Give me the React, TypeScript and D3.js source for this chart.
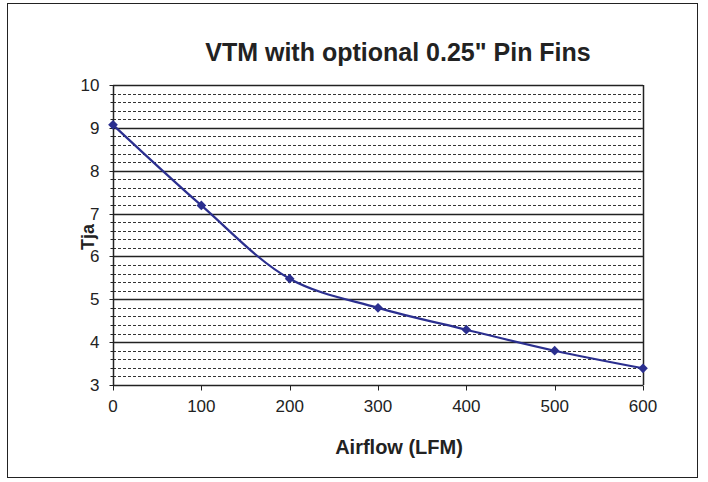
import React, { useEffect, useRef } from 'react';
import * as d3 from 'd3';

const airflow = [0, 100, 200, 300, 400, 500, 600];
const tja = [9.07, 7.19, 5.48, 4.8, 4.29, 3.8, 3.39];
const xTicks = [0, 100, 200, 300, 400, 500, 600];
const yTicks = [3, 4, 5, 6, 7, 8, 9, 10];

const App = () => {
  const svgRef = useRef<SVGSVGElement>(null);

  useEffect(() => {
    const width = 708;
    const height = 482;
    const font = 'Arial, "Liberation Sans", sans-serif';

    const svg = d3.select(svgRef.current);
    svg.selectAll('*').remove();

    // outer frame
    svg.append('rect')
      .attr('x', 7.5).attr('y', 3.5)
      .attr('width', 690).attr('height', 474)
      .attr('fill', 'white').attr('stroke', '#222').attr('stroke-width', 1);

    const x = d3.scaleLinear().domain([0, 600]).range([113, 643]);
    const y = d3.scaleLinear().domain([3, 10]).range([385, 85]);

    // minor grid (dashed) every 0.2
    const minor = d3.range(3, 10, 0.2).map(v => Math.round(v * 10) / 10)
      .filter(v => Math.abs(v - Math.round(v)) > 0.01);

    svg.append('g')
      .selectAll('line')
      .data(minor)
      .join('line')
      .attr('x1', x(0)).attr('x2', x(600))
      .attr('y1', d => Math.round(y(d)) + 0.5).attr('y2', d => Math.round(y(d)) + 0.5)
      .attr('stroke', '#333').attr('stroke-width', 1)
      .attr('stroke-dasharray', '3,2');

    // major grid
    svg.append('g')
      .selectAll('line')
      .data(yTicks)
      .join('line')
      .attr('x1', x(0)).attr('x2', x(600))
      .attr('y1', d => Math.round(y(d)) + 0.5).attr('y2', d => Math.round(y(d)) + 0.5)
      .attr('stroke', '#222').attr('stroke-width', 1.5);

    // plot border right
    svg.append('line')
      .attr('x1', x(600) + 0.5).attr('x2', x(600) + 0.5)
      .attr('y1', y(10)).attr('y2', y(3))
      .attr('stroke', '#222').attr('stroke-width', 1.5);

    // y axis with major + minor ticks
    const yAxis = svg.append('g').attr('transform', `translate(${x(0) + 0.5},0)`);
    yAxis.append('line')
      .attr('y1', y(10)).attr('y2', y(3))
      .attr('stroke', '#222').attr('stroke-width', 1.5);
    yAxis.selectAll('line.minor')
      .data(minor)
      .join('line')
      .attr('class', 'minor')
      .attr('x1', -3).attr('x2', 0)
      .attr('y1', d => Math.round(y(d)) + 0.5).attr('y2', d => Math.round(y(d)) + 0.5)
      .attr('stroke', '#222');
    yAxis.selectAll('line.major')
      .data(yTicks)
      .join('line')
      .attr('class', 'major')
      .attr('x1', -4).attr('x2', 0)
      .attr('y1', d => Math.round(y(d)) + 0.5).attr('y2', d => Math.round(y(d)) + 0.5)
      .attr('stroke', '#222');
    yAxis.selectAll('text')
      .data(yTicks)
      .join('text')
      .attr('x', -14).attr('y', d => y(d) + 6)
      .attr('text-anchor', 'end')
      .attr('font-family', font).attr('font-size', 17).attr('fill', '#222')
      .text(d => d);

    // x axis
    const xAxis = svg.append('g').attr('transform', `translate(0,${y(3) + 0.5})`);
    xAxis.selectAll('line')
      .data(xTicks)
      .join('line')
      .attr('x1', d => Math.round(x(d)) + 0.5).attr('x2', d => Math.round(x(d)) + 0.5)
      .attr('y1', 0).attr('y2', 5)
      .attr('stroke', '#222');
    xAxis.selectAll('text')
      .data(xTicks)
      .join('text')
      .attr('x', d => x(d)).attr('y', 26)
      .attr('text-anchor', 'middle')
      .attr('font-family', font).attr('font-size', 17).attr('fill', '#222')
      .text(d => d);

    // series
    const pts = airflow.map((a, i) => [x(a), y(tja[i])] as [number, number]);
    const line = d3.line().curve(d3.curveCatmullRom.alpha(0.5));
    svg.append('path')
      .attr('d', line(pts))
      .attr('fill', 'none')
      .attr('stroke', '#2b2f8f')
      .attr('stroke-width', 2.2);

    svg.append('g')
      .selectAll('path')
      .data(pts)
      .join('path')
      .attr('d', d3.symbol(d3.symbolDiamond2, 60)())
      .attr('transform', d => `translate(${d[0]},${d[1]})`)
      .attr('fill', '#2b2f8f');

    // titles
    svg.append('text')
      .attr('x', 398).attr('y', 61)
      .attr('text-anchor', 'middle')
      .attr('font-family', font).attr('font-weight', 'bold').attr('font-size', 25)
      .attr('fill', '#222')
      .text('VTM with optional 0.25" Pin Fins');

    svg.append('text')
      .attr('x', 399).attr('y', 454)
      .attr('text-anchor', 'middle')
      .attr('font-family', font).attr('font-weight', 'bold').attr('font-size', 20)
      .attr('fill', '#222')
      .text('Airflow (LFM)');

    svg.append('text')
      .attr('transform', 'translate(94,237) rotate(-90)')
      .attr('text-anchor', 'middle')
      .attr('font-family', font).attr('font-weight', 'bold').attr('font-size', 18)
      .attr('fill', '#222')
      .text('Tja');

    svg.attr('width', width).attr('height', height);
  }, []);

  return (
    <svg ref={svgRef} width={708} height={482} style={{ position: 'absolute', left: 0, top: 0 }}></svg>
  );
};

export default App;
